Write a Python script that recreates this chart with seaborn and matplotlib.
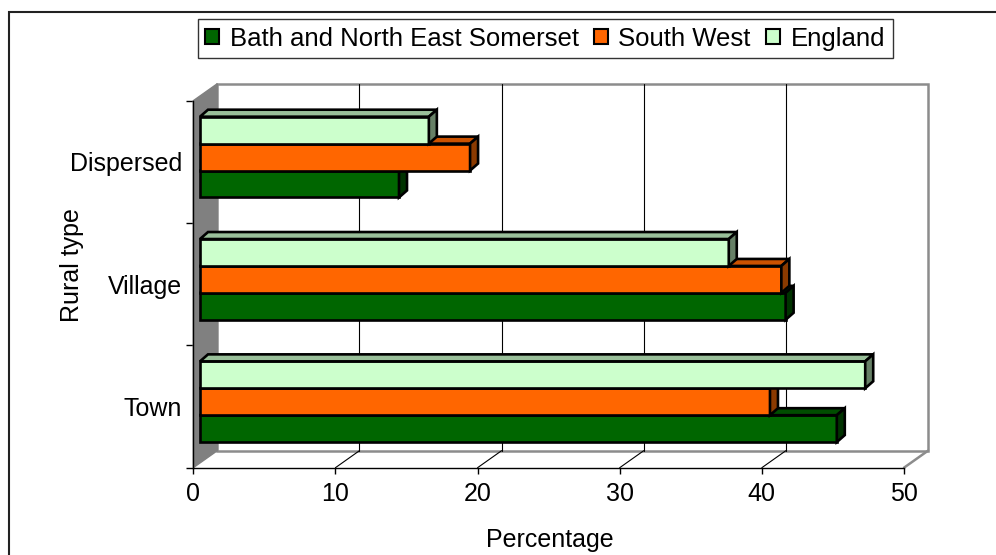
import numpy as np
import pandas as pd
import matplotlib
matplotlib.use("Agg")
import matplotlib.pyplot as plt
import matplotlib.transforms as mtransforms
from matplotlib.patches import Polygon, Rectangle, Patch
import seaborn as sns

rural_types = ["Dispersed", "Village", "Town"]
regions = ["Bath and North East Somerset", "South West", "England"]
bath = [14.0, 41.2, 44.8]
south_west = [19.0, 40.9, 40.1]
england = [16.1, 37.2, 46.8]
x_ticks = [0, 10, 20, 30, 40, 50]

face = {"Bath and North East Somerset": "#006600", "South West": "#FF6600", "England": "#CCFFCC"}
top = {"Bath and North East Somerset": "#004D00", "South West": "#CC5200", "England": "#99BF99"}
side = {"Bath and North East Somerset": "#003300", "South West": "#8B3A00", "England": "#668066"}

df = pd.DataFrame({
    "Rural type": rural_types * 3,
    "Region": np.repeat(regions, 3),
    "Percentage": bath + south_west + england,
})

sns.set_style("white")
plt.rcParams["font.family"] = ["Liberation Sans", "DejaVu Sans"]
plt.rcParams["font.size"] = 18
plt.rcParams.update({"text.color": "black", "xtick.color": "black", "ytick.color": "black",
                     "axes.labelcolor": "black"})

W, H = 996, 555
fig = plt.figure(figsize=(W / 100, H / 100), dpi=100)
ident = mtransforms.IdentityTransform()


def box(l, t, r, b):
    return [l / W, 1 - b / H, (r - l) / W, (b - t) / H]


# depth of the 3d box and of the bars, in pixels
DX, DY = 24, 17
BDX, BDY = 8, 7

# front plane: axis lines, ticks, labels, plus the walls behind
ax = fig.add_axes(box(193.3, 100.7, 904, 467.7))
ax.set_xlim(0, 50)
ax.set_ylim(2.5, -0.5)
ax.patch.set_visible(False)
for s in ["top", "right"]:
    ax.spines[s].set_visible(False)
for s in ["left", "bottom"]:
    ax.spines[s].set_color("black")
    ax.spines[s].set_linewidth(1.0)

depth = mtransforms.ScaledTranslation(DX / 100, DY / 100, fig.dpi_scale_trans)
ax.add_patch(Rectangle((0, 0), 1, 1, transform=ax.transAxes + depth, facecolor="white",
                       edgecolor="#8C8C8C", linewidth=1.8, clip_on=False, zorder=0))
for v in x_ticks[1:-1]:
    ax.plot([v, v], [2.5, -0.5], transform=ax.transData + depth, color="black",
            linewidth=0.8, clip_on=False, zorder=1)
    p = ax.transData.transform((v, 2.5))
    ax.plot([p[0], p[0] + DX], [p[1], p[1] + DY], transform=ident, color="black",
            linewidth=0.8, clip_on=False, zorder=1)

p0 = ax.transAxes.transform((0, 0))
p1 = ax.transAxes.transform((0, 1))
ax.add_patch(Polygon([p0, p1, (p1[0] + DX, p1[1] + DY), (p0[0] + DX, p0[1] + DY)],
                     closed=True, transform=ident, facecolor="#808080", edgecolor="#808080",
                     linewidth=1, clip_on=False, zorder=2))
p2 = ax.transAxes.transform((1, 0))
ax.plot([p2[0], p2[0] + DX], [p2[1], p2[1] + DY], transform=ident, color="#8C8C8C",
        linewidth=1.8, clip_on=False, zorder=1)

ax.set_xticks(x_ticks)
ax.set_xticklabels([str(v) for v in x_ticks])
ax.set_yticks([-0.5, 0.5, 1.5, 2.5])
ax.set_yticklabels([])
ax.set_yticks([0, 1, 2], minor=True)
ax.set_yticklabels(rural_types, minor=True)
ax.tick_params(axis="x", which="major", direction="out", length=4.3, width=1, pad=6,
               labelsize=18, bottom=True)
ax.tick_params(axis="y", which="major", direction="out", length=5, width=1, left=True)
ax.tick_params(axis="y", which="minor", length=0, pad=8, labelsize=18)

# bar plane, slightly behind the front plane
axb = fig.add_axes(box(193.3 + 6.7, 100.7 - 4.8, 904 + 6.7, 467.7 - 4.8))
hue_order = ["England", "South West", "Bath and North East Somerset"]
sns.barplot(data=df, x="Percentage", y="Rural type", hue="Region", order=rural_types,
            hue_order=hue_order, palette=face, saturation=1, orient="h", width=0.66,
            edgecolor="black", linewidth=1.9, legend=False, ax=axb)
axb.set_xlim(0, 50)
axb.set_ylim(2.5, -0.5)
axb.axis("off")

zs = {"Bath and North East Somerset": 3, "South West": 4, "England": 5}
for cont, reg in zip(axb.containers, hue_order):
    z = zs[reg]
    for bar in cont:
        bar.set_zorder(z)
        bar.set_clip_on(False)
        x0, y0 = bar.get_x(), bar.get_y()
        (a, b), (c, d) = axb.transData.transform([(x0, y0), (x0 + bar.get_width(), y0 + bar.get_height())])
        xl, xr = min(a, c), max(a, c)
        ylo, yhi = min(b, d), max(b, d)
        axb.add_patch(Polygon([(xl, yhi), (xr, yhi), (xr + BDX, yhi + BDY), (xl + BDX, yhi + BDY)],
                              closed=True, transform=ident, facecolor=top[reg], edgecolor="black",
                              linewidth=1.9, clip_on=False, zorder=z))
        axb.add_patch(Polygon([(xr, ylo), (xr, yhi), (xr + BDX, yhi + BDY), (xr + BDX, ylo + BDY)],
                              closed=True, transform=ident, facecolor=side[reg], edgecolor="black",
                              linewidth=1.9, clip_on=False, zorder=z))

handles = [Patch(facecolor=face[r], edgecolor="black", linewidth=1.5) for r in regions]
leg = fig.legend(handles, regions, loc="upper center", bbox_to_anchor=(545.2 / W, 1 - 19 / H),
                 ncol=3, frameon=True, fancybox=False, edgecolor="black", handlelength=0.55,
                 handleheight=0.55, handletextpad=0.4, columnspacing=0.6, borderpad=0.3,
                 borderaxespad=0, fontsize=18.5)
leg.get_frame().set_linewidth(1.0)

fig.text(549.5 / W, 1 - 547 / H, "Percentage", ha="center", va="baseline", fontsize=18)
fig.text(72 / W, 1 - 265.5 / H, "Rural type", rotation=90, ha="center", va="center", fontsize=18)

fig.add_artist(Rectangle((8.7 / W, -0.1), 1.2, 1.1 - 11.7 / H, transform=fig.transFigure,
                         fill=False, edgecolor="#222222", linewidth=1.5))

fig.savefig("out.png", dpi=100)
